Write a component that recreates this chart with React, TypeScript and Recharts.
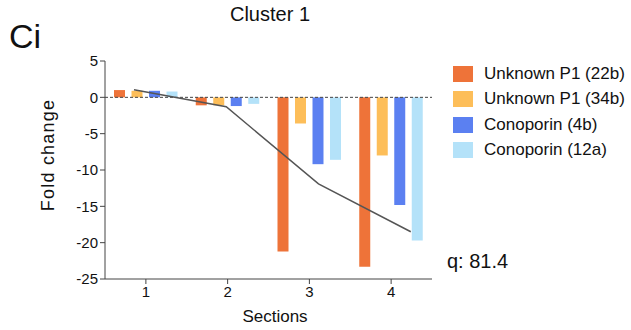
import React from 'react'
import { ComposedChart, Bar, Line, XAxis, YAxis, ReferenceLine } from 'recharts'

const sections = ['1', '2', '3', '4']
const unknown22b = [1.0, -1.1, -21.2, -23.3]
const unknown34b = [0.9, -1.1, -3.6, -8.0]
const conoporin4b = [0.9, -1.2, -9.2, -14.8]
const conoporin12a = [0.8, -0.9, -8.6, -19.7]
const trend = [1.05, -1.3, -11.9, -18.5]
const yTicks = [5, 0, -5, -10, -15, -20, -25]

const series = [
  { key: 'p22', name: 'Unknown P1 (22b)', color: '#EE7339' },
  { key: 'p34', name: 'Unknown P1 (34b)', color: '#FDBE59' },
  { key: 'c4b', name: 'Conoporin (4b)', color: '#5B80F1' },
  { key: 'c12a', name: 'Conoporin (12a)', color: '#B4E2F9' },
]

const data = sections.map((s, i) => ({
  section: s,
  lx: i + 1,
  p22: unknown22b[i],
  p34: unknown34b[i],
  c4b: conoporin4b[i],
  c12a: conoporin12a[i],
  trend: trend[i],
}))

const font = '"Liberation Sans", Arial, Helvetica, sans-serif'
const axisColor = '#444'

export default function App() {
  return (
    <div style={{ position: 'absolute', left: 0, top: 0, width: 631, height: 330, background: '#fff', fontFamily: font, color: '#111' }}>
      <div style={{ position: 'absolute', left: 9, top: 19, fontSize: 34, lineHeight: '34px' }}>Ci</div>
      <div style={{ position: 'absolute', left: 170, width: 200, top: 3, fontSize: 20, textAlign: 'center' }}>Cluster 1</div>
      <div style={{ position: 'absolute', left: 447, top: 250, fontSize: 20 }}>q: 81.4</div>
      <div style={{ position: 'absolute', left: 175, width: 200, top: 307, fontSize: 17, textAlign: 'center' }}>Sections</div>
      <div
        style={{
          position: 'absolute', left: -52, top: 144, width: 200, height: 22, lineHeight: '22px',
          fontSize: 18, letterSpacing: 1.2, textAlign: 'center', transform: 'rotate(-90deg)',
        }}
      >
        Fold change
      </div>

      <ComposedChart width={631} height={330} data={data} barGap={6.5} margin={{ top: 61, right: 199, left: 55, bottom: 0 }}>
        <XAxis
          xAxisId="cat"
          dataKey="section"
          height={51}
          padding={{ left: 0, right: 0 }}
          stroke={axisColor}
          tickSize={5}
          tick={{ fontSize: 15, fill: '#111', fontFamily: font }}
        />
        <XAxis xAxisId="trend" type="number" dataKey="lx" domain={[0.686, 4.23]} allowDataOverflow hide />
        <YAxis
          domain={[-25, 5]}
          ticks={yTicks}
          width={50}
          stroke={axisColor}
          tickSize={5}
          interval={0}
          tick={{ fontSize: 15, fill: '#111', fontFamily: font }}
        />
        <ReferenceLine xAxisId="cat" y={0} stroke="#444" strokeDasharray="3 2" />
        {series.map(s => (
          <Bar key={s.key} xAxisId="cat" dataKey={s.key} name={s.name} fill={s.color} barSize={11} isAnimationActive={false} />
        ))}
        <Line xAxisId="trend" dataKey="trend" stroke="#555" strokeWidth={1.5} dot={false} isAnimationActive={false} />
      </ComposedChart>

      <div style={{ position: 'absolute', left: 453, top: 61 }}>
        {series.map(s => (
          <div key={s.key} style={{ display: 'flex', alignItems: 'center', height: 25.5 }}>
            <div style={{ width: 20, height: 16, background: s.color, marginRight: 11 }} />
            <span style={{ fontSize: 17 }}>{s.name}</span>
          </div>
        ))}
      </div>
    </div>
  )
}
